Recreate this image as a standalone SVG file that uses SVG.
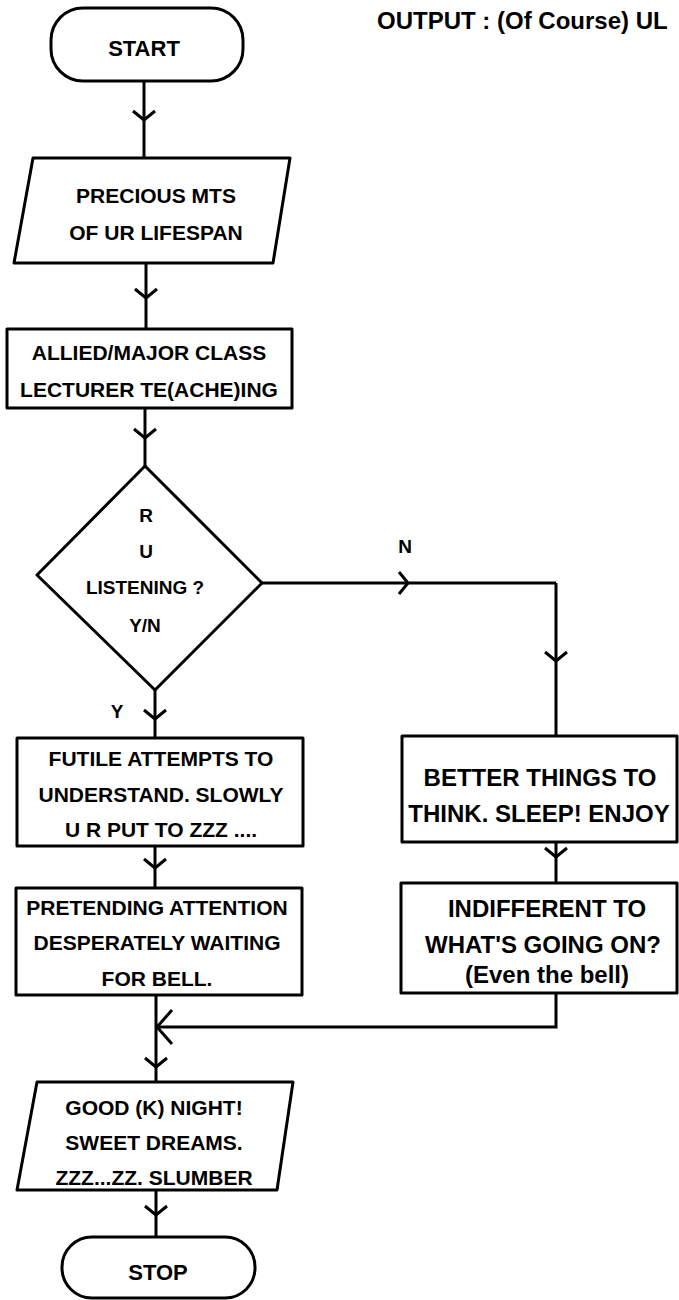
<svg xmlns="http://www.w3.org/2000/svg" width="679" height="1300" viewBox="0 0 679 1300">
<style>
.s{fill:#fff;stroke:#000;stroke-width:3;stroke-linejoin:round}
.c{fill:none;stroke:#000;stroke-width:3}
.m{marker-mid:url(#v)}
.e{marker-end:url(#vb)}
text{font-family:"Liberation Sans",Arial,Helvetica,sans-serif;font-weight:bold;fill:#000;text-anchor:middle}
.t{font-size:21px}
.r{font-size:24px}
.k{font-size:22px}
.d{font-size:19px}
</style>
<defs>
<marker id="v" markerUnits="userSpaceOnUse" viewBox="-16 -16 32 32" markerWidth="32" markerHeight="32" refX="0" refY="0" orient="auto">
<path d="M-9,-11 L0,0 L-9,11" fill="none" stroke="#000" stroke-width="3"/>
</marker>
<marker id="vb" markerUnits="userSpaceOnUse" viewBox="-20 -20 40 40" markerWidth="40" markerHeight="40" refX="0" refY="0" orient="auto">
<path d="M-15,-17 L0,0 L-15,17" fill="none" stroke="#000" stroke-width="3"/>
</marker>
</defs>
<rect width="679" height="1300" fill="#fff"/>
<text class="r" x="377" y="29" style="text-anchor:start">OUTPUT : (Of Course) UL</text>
<g id="connectors">
<path class="c m" d="M144 81 V120 V158"/>
<path class="c m" d="M146 263 V298 V329"/>
<path class="c m" d="M145 408 V438 V466"/>
<path class="c m" d="M262 583 H408 H556"/>
<path class="c m" d="M556 583 V661 V736"/>
<path class="c m" d="M155 690 V719 V738"/>
<path class="c m" d="M155 846 V868 V888"/>
<path class="c m" d="M556 842 V857 V883"/>
<path class="c e" d="M556 993 V1027 H157"/>
<path class="c m" d="M156 995 V1067 V1082"/>
<path class="c m" d="M156 1190 V1215 V1237"/>
</g>
<g id="start">
<rect class="s" x="51" y="8" width="192" height="73" rx="32" ry="32"/>
<text class="k" x="144" y="56">START</text>
</g>
<g id="input">
<polygon class="s" points="33,158 290,158 273,263 14,263"/>
<text class="t" x="156" y="203">PRECIOUS MTS</text>
<text class="t" x="156" y="240">OF UR LIFESPAN</text>
</g>
<g id="class">
<rect class="s" x="7" y="329" width="285" height="79"/>
<text class="t" x="149" y="360">ALLIED/MAJOR CLASS</text>
<text class="t" x="149" y="397">LECTURER TE(ACHE)ING</text>
</g>
<g id="decision">
<polygon class="s" points="145,466 262,583 155,690 37,575"/>
<text class="d" x="146" y="522">R</text>
<text class="d" x="146" y="558">U</text>
<text class="d" x="145" y="594">LISTENING ?</text>
<text class="d" x="145" y="632">Y/N</text>
</g>
<text class="d" x="405" y="553">N</text>
<text class="d" x="117" y="718">Y</text>
<g id="futile">
<rect class="s" x="17" y="738" width="286" height="108"/>
<text class="t" x="161" y="766">FUTILE ATTEMPTS TO</text>
<text class="t" x="161" y="802">UNDERSTAND. SLOWLY</text>
<text class="t" x="161" y="837">U R PUT TO ZZZ ....</text>
</g>
<g id="pretending">
<rect class="s" x="16" y="888" width="286" height="107"/>
<text class="t" x="157" y="915">PRETENDING ATTENTION</text>
<text class="t" x="157" y="950">DESPERATELY WAITING</text>
<text class="t" x="157" y="986">FOR BELL.</text>
</g>
<g id="better">
<rect class="s" x="402" y="736" width="275" height="106"/>
<text class="r" x="540" y="786">BETTER THINGS TO</text>
<text class="r" x="539" y="822">THINK. SLEEP! ENJOY</text>
</g>
<g id="indifferent">
<rect class="s" x="401" y="883" width="276" height="110"/>
<text class="r" x="547" y="917">INDIFFERENT TO</text>
<text class="r" x="543" y="953">WHAT'S GOING ON?</text>
<text class="r" x="547" y="983">(Even the bell)</text>
</g>
<g id="output">
<polygon class="s" points="37,1082 293,1082 277,1190 17,1190"/>
<text class="t" x="154" y="1115">GOOD (K) NIGHT!</text>
<text class="t" x="154" y="1150">SWEET DREAMS.</text>
<text class="t" x="154" y="1185">ZZZ...ZZ. SLUMBER</text>
</g>
<g id="stop">
<rect class="s" x="62" y="1237" width="193" height="61" rx="30" ry="30"/>
<text class="k" x="158" y="1280">STOP</text>
</g>
</svg>
